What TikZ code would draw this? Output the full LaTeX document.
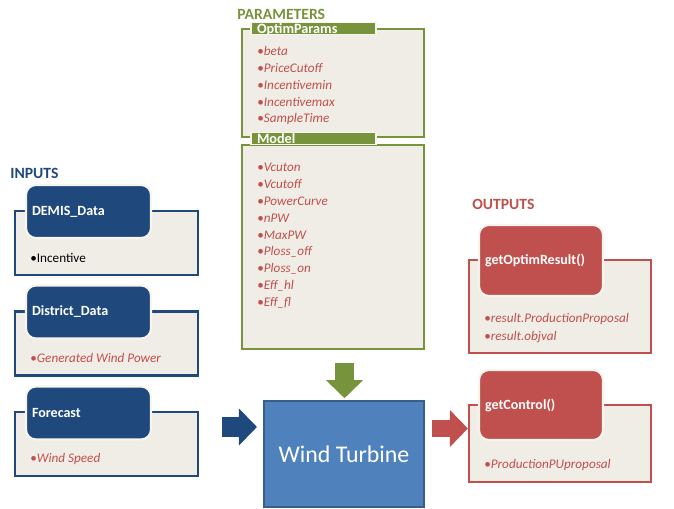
\documentclass[tikz,border=0pt]{standalone}
\usepackage{fontspec}
\setmainfont{Carlito}
\usetikzlibrary{positioning,arrows.meta}
\definecolor{hdrblue}{HTML}{1F497D}
\definecolor{wtblue}{HTML}{4F81BD}
\definecolor{wtedge}{HTML}{385D8A}
\definecolor{outred}{HTML}{C0504D}
\definecolor{pargreen}{HTML}{77933C}
\definecolor{boxfill}{HTML}{EFEDE5}
\definecolor{glow}{HTML}{F7F5EE}
\newcommand{\itm}[1]{\textcolor{outred}{\textbullet\textit{#1}}}

\begin{document}
\begin{tikzpicture}[x=0.02cm,y=-0.02cm,
  every node/.style={font=\fontsize{7.5}{9}\selectfont},
  panel/.style={draw=#1,fill=boxfill,line width=1.3pt,minimum width=3.66cm,inner sep=0pt},
  head/.style={fill=#1,draw=glow,line width=1.2pt,rounded corners=0.2cm,text=white,
    font=\fontsize{8}{9.5}\selectfont\bfseries,align=left,inner sep=0.12cm,text width=2.26cm},
  bar/.style={fill=pargreen,draw=glow,line width=0.8pt,text=white,
    font=\fontsize{8.1}{9.5}\selectfont\bfseries,align=left,inner xsep=0.12cm,inner ysep=0.5pt,
    text width=2.26cm,text height=6pt,text depth=0pt},
  title/.style={anchor=west,inner sep=0pt,text=#1,font=\fontsize{8.9}{10.5}\selectfont\bfseries},
  item/.style={anchor=west,inner sep=0pt},
  fatarrow/.style={draw=#1,line width=0.4cm,-{Triangle[length=0.36cm,width=0.74cm,line width=0pt]}}
]
\useasboundingbox (0,0) rectangle (674,509);

% inputs
\node[title=hdrblue] (inputs) at (10,173) {INPUTS};
\node[panel=hdrblue,minimum height=1.28cm] (demisbox) at (106.5,243) {};
\node[head=hdrblue,minimum height=1.06cm] (demis) at (88.5,211.5) {DEMIS\_Data};
\node[item] (incentive) at (30,258) {\textbullet Incentive};
\node[panel=hdrblue,minimum height=1.28cm] (districtbox) at (106.5,343.5) {};
\node[head=hdrblue,minimum height=1.06cm] (district) at (88.5,312) {District\_Data};
\node[item] (genpower) at (30,358) {\itm{Generated Wind Power}};
\node[panel=hdrblue,minimum height=1.28cm] (forecastbox) at (106.5,444) {};
\node[head=hdrblue,minimum height=1.06cm] (forecast) at (88.5,413) {Forecast};
\node[item] (windspeed) at (30,459) {\itm{Wind Speed}};

% parameters
\node[title=pargreen] (params) at (237,14) {PARAMETERS};
\node[panel=pargreen,minimum width=3.64cm,minimum height=2.16cm] (optimbox) at (333,83) {};
\node[panel=pargreen,minimum width=3.64cm,minimum height=4.08cm] (modelbox) at (333,247) {};
\node[bar] (optimbar) at (313.5,28.5) {OptimParams};
\node[bar] (modelbar) at (313.5,138.5) {Model};
\foreach \t [count=\i from 0] in {beta,PriceCutoff,Incentivemin,Incentivemax,SampleTime}
  \node[item] (opt\i) at (257,51+17*\i) {\itm{\t}};
\foreach \t [count=\i from 0] in {Vcuton,Vcutoff,PowerCurve,nPW,MaxPW,Ploss\_off,Ploss\_on,Eff\_hl,Eff\_fl}
  \node[item] (mod\i) at (257,167.3+17*\i) {\itm{\t}};

% outputs
\node[title=outred] (outputs) at (472,204) {OUTPUTS};
\node[panel=outred,minimum width=3.64cm,minimum height=1.86cm] (resultbox) at (560,306.5) {};
\node[head=outred,minimum height=1.42cm,text width=2.24cm] (result) at (541,260.5) {getOptimResult()};
\node[item] (proposal) at (484,319) {\itm{result.ProductionProposal}};
\node[item] (objval) at (484,337) {\itm{result.objval}};
\node[panel=outred,minimum width=3.64cm,minimum height=1.54cm] (controlbox) at (560,443.5) {};
\node[head=outred,minimum height=1.4cm,text width=2.24cm] (control) at (541,405) {getControl()};
\node[item] (puproposal) at (484,465) {\itm{ProductionPUproposal}};

% turbine
\node[draw=wtedge,fill=wtblue,line width=1.2pt,minimum width=3.2cm,minimum height=2.12cm,
  text=white,font=\fontsize{13.6}{16}\selectfont] (wt) at (344,454) {Wind Turbine};

\coordinate (inarrow) at (222,427);
\coordinate (parrow) at (344.5,363);
\coordinate (outarrow) at (432,428.5);
\draw[fatarrow=hdrblue,shorten >=0.12cm] (inarrow) -- (inarrow -| wt.west);
\draw[fatarrow=pargreen,shorten >=1pt] (parrow) -- (parrow |- wt.north);
\draw[fatarrow=outred,line width=0.34cm] (outarrow) -- (outarrow -| controlbox.west);
\end{tikzpicture}
\end{document}
